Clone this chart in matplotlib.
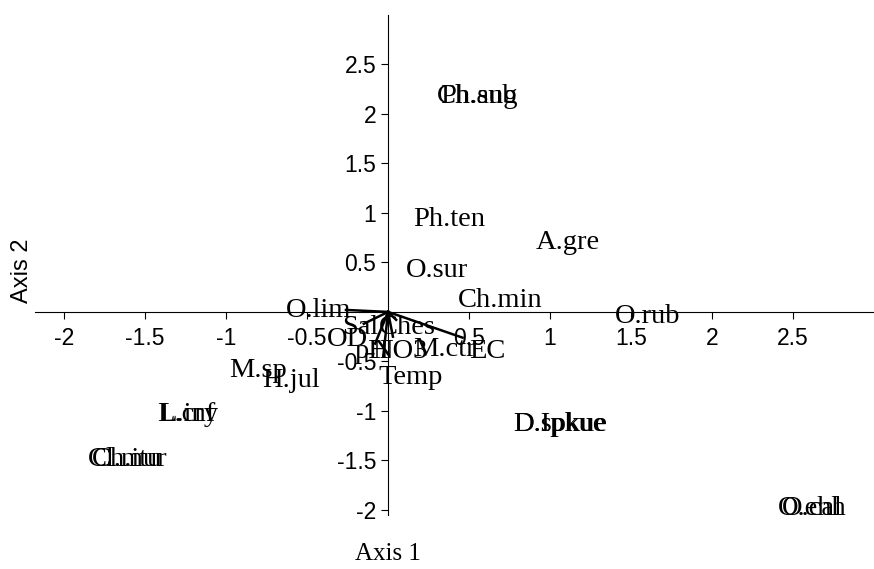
import numpy as np
import matplotlib.pyplot as plt

# species scores (axis 1, axis 2)
sp_names = ["Ph.sub", "Ch.ang", "Ph.ten", "A.gre", "O.sur", "Ch.min", "O.rub", "O.lim",
            "M.sp", "H.jul", "L.inf", "L.cry", "Ch.itu", "Cl.mur", "D.spkue", "D.Ipkue",
            "O.cal", "O.ehh", "M.ctr"]
sp_x = [0.56, 0.55, 0.38, 1.11, 0.30, 0.69, 1.60, -0.43,
        -0.80, -0.60, -1.24, -1.24, -1.61, -1.61, 1.06, 1.06,
        2.62, 2.62, 0.35]
sp_y = [2.17, 2.17, 0.93, 0.70, 0.42, 0.12, -0.05, 0.01,
        -0.59, -0.69, -1.04, -1.04, -1.49, -1.49, -1.14, -1.14,
        -1.98, -1.98, -0.38]

# environmental vectors
env_names = ["Sal", "OD", "pH", "Temp", "NO3", "EC", "Ches"]
env_x = [-0.26, -0.15, -0.08, -0.03, 0.03, 0.46, 0.05]
env_y = [0.02, -0.12, -0.32, -0.45, -0.25, -0.26, -0.08]
# label positions for the vectors
env_lx = [-0.17, -0.25, -0.10, 0.14, 0.07, 0.61, 0.12]
env_ly = [-0.16, -0.28, -0.40, -0.66, -0.40, -0.40, -0.16]

fig = plt.figure(figsize=(8.74, 5.69), dpi=100)
ax = fig.add_axes([0.04, 0.095, 0.96, 0.879])
ax.set_xlim(-2.18, 3.0)
ax.set_ylim(-2.05, 3.0)

for s in ["top", "right"]:
    ax.spines[s].set_visible(False)
ax.spines["left"].set_position(("data", 0))
ax.spines["bottom"].set_position(("data", 0))
ax.spines["left"].set_linewidth(0.8)
ax.spines["bottom"].set_linewidth(0.8)

xt = [-2, -1.5, -1, -0.5, 0.5, 1, 1.5, 2, 2.5]
yt = [-2, -1.5, -1, -0.5, 0.5, 1, 1.5, 2, 2.5]
ax.set_xticks(xt)
ax.set_xticklabels([f"{v:g}" for v in xt])
ax.set_yticks(yt)
ax.set_yticklabels([f"{v:g}" for v in yt])
ax.tick_params(axis="both", labelsize=16.5, length=5, width=0.8, direction="out")
ax.tick_params(axis="x", pad=6)
for lab in ax.get_xticklabels() + ax.get_yticklabels():
    lab.set_family("Liberation Sans")

for xi, yi in zip(env_x, env_y):
    ax.plot([0, xi], [0, yi], color="black", lw=1.8)

serif = "Liberation Serif"
for n, xi, yi in zip(sp_names, sp_x, sp_y):
    ax.text(xi, yi, n, ha="center", va="center", fontsize=20.5, family=serif)
for n, xi, yi in zip(env_names, env_lx, env_ly):
    ax.text(xi, yi, n, ha="center", va="center", fontsize=20.5, family=serif)

fig.text(0.444, 0.027, "Axis 1", ha="center", va="center", fontsize=18, family=serif)
fig.text(0.025, 0.525, "Axis 2", ha="center", va="center", fontsize=17,
         family="Liberation Sans", rotation=90)

fig.savefig("out.png", dpi=100)
